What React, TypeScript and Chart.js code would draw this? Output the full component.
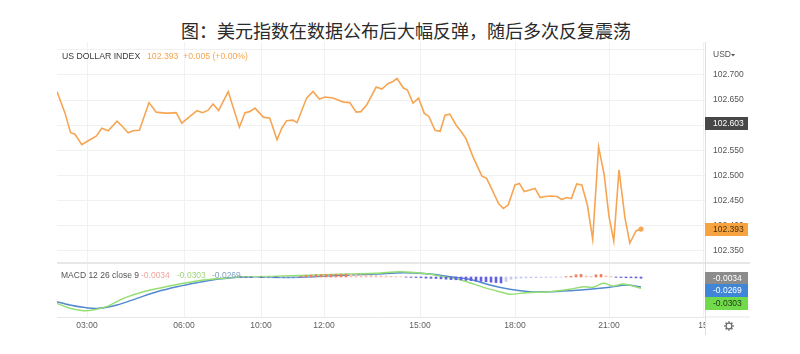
import React, { useEffect, useRef } from "react";
import { Chart, registerables } from "chart.js";

Chart.register(...registerables);

// ---------- text ----------
const TITLE = "图：美元指数在数据公布后大幅反弹，随后多次反复震荡";
const SYMBOL = "US DOLLAR INDEX";
const QUOTE_CHANGE = "+0.005 (+0.00%)";
const CURRENCY = "USD";
const MACD_LABEL = "MACD 12 26 close 9";

// ---------- x axis (bar index units) ----------
const X_MIN = 0;
const X_MAX = 81;
const X_TICK_POS = [3.75, 15.875, 25.5, 33.375, 45.375, 57.25, 69, 80.75];
const X_TICK_LABELS = ["03:00", "06:00", "10:00", "12:00", "15:00", "18:00", "21:00", "15"];

// ---------- price pane ----------
const Y_MIN = 102.3255;
const Y_MAX = 102.7657;
const Y_TICKS = [102.35, 102.4, 102.45, 102.5, 102.55, 102.6, 102.65, 102.7, 102.75];
const REF_PRICE = 102.603;

const PRICE_T = [
  0, 1.0, 1.7, 2.25, 3.1, 3.9, 4.9, 5.6, 6.4, 7.5,
  8.2, 8.9, 9.5, 10.3, 11.5, 12.4, 13.5, 14.1, 14.9, 15.6,
  16.5, 17.5, 18.2, 18.9, 19.5, 20.2, 21.4, 22.8, 23.5, 24.1,
  24.75, 25.8, 26.6, 27.5, 28.1, 28.7, 29.5, 30.0, 31.2, 32.0,
  32.8, 33.5, 34.5, 35.8, 36.6, 37.4, 38.0, 38.7, 39.9, 40.6,
  41.4, 42.0, 42.5, 43.3, 43.8, 44.5, 45.2, 45.9, 46.5, 47.25,
  47.9, 48.5, 49.1, 49.9, 50.4, 51.1, 52.0, 53.1, 53.7, 54.3,
  55.2, 55.8, 56.4, 57.25, 57.8, 58.4, 59.1, 59.75, 60.4, 61.0,
  61.8, 62.5, 63.1, 63.7, 64.3, 64.96, 65.6, 66.3, 66.96, 67.7,
  68.4, 69.0, 69.6, 70.25, 71.0, 71.6, 72.4, 73.0,
];
const PRICE = [
  102.667, 102.624, 102.585, 102.582, 102.561, 102.569, 102.578, 102.594, 102.589, 102.608,
  102.597, 102.585, 102.589, 102.590, 102.645, 102.626, 102.624, 102.624, 102.625, 102.604,
  102.616, 102.629, 102.625, 102.630, 102.642, 102.629, 102.667, 102.596, 102.625, 102.627,
  102.634, 102.616, 102.614, 102.571, 102.594, 102.609, 102.610, 102.605, 102.654, 102.667,
  102.652, 102.656, 102.654, 102.646, 102.645, 102.626, 102.627, 102.640, 102.676, 102.672,
  102.683, 102.687, 102.693, 102.674, 102.670, 102.644, 102.654, 102.624, 102.617, 102.590,
  102.588, 102.620, 102.622, 102.600, 102.590, 102.574, 102.537, 102.499, 102.494, 102.474,
  102.444, 102.434, 102.441, 102.481, 102.484, 102.468, 102.471, 102.474, 102.456, 102.458,
  102.459, 102.458, 102.452, 102.456, 102.454, 102.483, 102.481, 102.441, 102.373, 102.557,
  102.501, 102.418, 102.369, 102.511, 102.415, 102.365, 102.390, 102.393,
];

// ---------- MACD pane ----------
const M_MIN = -0.108;
const M_MAX = 0.0378;

const SIGNAL_T = [0, 1.6, 3.3, 5.2, 7.5, 10.0, 12.5, 15.0, 17.5, 20.0, 22.5, 24.5, 26.2, 30.4, 36.6, 40.0, 43.3, 46.6, 49.1, 51.6, 54.1, 56.6, 59.1, 61.6, 64.1, 66.6, 69.1, 71.2, 73.0];
const SIGNAL = [-0.0667, -0.0756, -0.0818, -0.0845, -0.0756, -0.0575, -0.0397, -0.0262, -0.0154, -0.0062, -0.0008, 0.0008, -0.0008, -0.0008, 0.0054, 0.0081, 0.0116, 0.0081, 0.0008, -0.0062, -0.0216, -0.0332, -0.0397, -0.0397, -0.0370, -0.0332, -0.0278, -0.0216, -0.0269];

const MACD_T = [0, 1.6, 3.3, 4.5, 6.2, 8.3, 10.8, 13.3, 15.8, 18.3, 20.8, 23.3, 25.0, 28.3, 32.5, 36.6, 40.0, 42.9, 45.8, 48.3, 50.8, 53.3, 55.8, 56.6, 58.7, 61.6, 64.1, 65.8, 67.0, 68.3, 69.5, 70.8, 73.0];
const MACD = [-0.0710, -0.0845, -0.0910, -0.0891, -0.0802, -0.0575, -0.0397, -0.0278, -0.0170, -0.0081, -0.0035, 0.0008, 0.0008, 0.0027, 0.0054, 0.0081, 0.0100, 0.0143, 0.0100, 0.0008, -0.0100, -0.0278, -0.0424, -0.0467, -0.0424, -0.0397, -0.0332, -0.0262, -0.0278, -0.0170, -0.0243, -0.0189, -0.0303];

const HIST_START = 23;
const HIST_STEP = 0.625;
const HIST = [
  -0.001, -0.001, -0.0015, -0.001, -0.0012, -0.001, -0.0008, -0.001, -0.0008, -0.0006,
  -0.0005, -0.0004, 0.002, 0.004, 0.005, 0.006, 0.0065, 0.007, 0.0072, 0.0075,
  0.0078, 0.008, 0.007, 0.0062, 0.0055, 0.005, 0.0045, 0.004, 0.0032, 0.0025,
  0.0018, 0.0012, 0.0006, -0.0005, -0.001, -0.0015, -0.002, -0.003, -0.0035, -0.004,
  -0.005, -0.006, -0.007, -0.0075, -0.008, -0.009, -0.010, -0.011, -0.012, -0.013,
  -0.014, -0.015, -0.016, -0.012, -0.006, -0.004, -0.003, -0.0025, -0.002, -0.0018,
  -0.0015, -0.0012, -0.001, -0.0008, -0.0005, 0.001, 0.002, 0.006, 0.007, 0.003,
  0.002, 0.006, 0.007, 0.003, 0.0015, -0.001, -0.0015, -0.002, -0.002, -0.0025,
  -0.0034,
];

const FONT = '"Liberation Sans", Arial, sans-serif';
const ORANGE = "#f6a552";
const BLUE = "#5289cf";
const GREEN = "#95de72";

function histColor(i: number): string {
  const v = HIST[i];
  const p = i > 0 ? HIST[i - 1] : 0;
  if (v >= 0) return v >= p ? "#ef7d5f" : "#f6c2b2";
  return v <= p ? "#6262e0" : "#c6c9ef";
}

function fmtSigned(v: number, d: number): string {
  return (v >= 0 ? "+" : "") + v.toFixed(d);
}

const overlayPlugin = {
  id: "overlay",
  afterDraw(chart: any) {
    const { ctx, chartArea: a, scales } = chart;
    const ys = scales.y;
    const y2 = scales.y2;
    ctx.save();

    // pane separator and bottom line
    ctx.fillStyle = "#e7e7e7";
    ctx.fillRect(a.left, ys.bottom - 1, 750 - a.left, 2);
    ctx.fillRect(a.right, a.bottom - 0.5, 45, 1);

    // clip time labels under the price scale
    ctx.fillStyle = "#ffffff";
    ctx.fillRect(a.right + 1, a.bottom + 1, 800 - a.right, 30);

    // price-scale border
    ctx.strokeStyle = "#dedede";
    ctx.lineWidth = 1;
    ctx.beginPath();
    ctx.moveTo(a.right + 0.5, a.top);
    ctx.lineTo(a.right + 0.5, a.bottom + 18);
    ctx.stroke();

    // legends
    ctx.textBaseline = "middle";
    ctx.textAlign = "left";
    ctx.font = `8.7px ${FONT}`;
    ctx.fillStyle = "#3a3a3a";
    ctx.fillText(SYMBOL, 62, 56.5);
    ctx.fillStyle = ORANGE;
    const last = PRICE[PRICE.length - 1];
    ctx.fillText(`${last.toFixed(3)}  ${QUOTE_CHANGE}`, 147, 56.5);

    ctx.font = `8.5px ${FONT}`;
    ctx.fillStyle = "#555";
    ctx.fillText(MACD_LABEL, 61, 275.5);
    const hLast = HIST[HIST.length - 1];
    const mLast = MACD[MACD.length - 1];
    const sLast = SIGNAL[SIGNAL.length - 1];
    ctx.fillStyle = "#f2a6a0";
    ctx.fillText(fmtSigned(hLast, 4), 141, 275.5);
    ctx.fillStyle = "#9fd67c";
    ctx.fillText(fmtSigned(mLast, 4), 177, 275.5);
    ctx.fillStyle = "#7f9fc4";
    ctx.fillText(fmtSigned(sLast, 4), 212, 275.5);

    // USD label
    ctx.fillStyle = "#555";
    ctx.fillText(CURRENCY, 713, 55);
    ctx.beginPath();
    ctx.moveTo(731, 54);
    ctx.lineTo(735, 54);
    ctx.lineTo(733, 56.5);
    ctx.closePath();
    ctx.fill();

    const badge = (y: number, text: string, bg: string, fg: string) => {
      const h = 13;
      ctx.fillStyle = bg;
      ctx.fillRect(a.right, Math.round(y - h / 2), 43, h);
      ctx.fillStyle = fg;
      ctx.font = `8.5px ${FONT}`;
      ctx.textAlign = "left";
      ctx.textBaseline = "middle";
      ctx.fillText(text, a.right + 8, Math.round(y - h / 2) + h / 2 + 0.5);
    };

    badge(ys.getPixelForValue(REF_PRICE), REF_PRICE.toFixed(3), "#474747", "#ffffff");
    badge(ys.getPixelForValue(last), last.toFixed(3), "#f7a33f", "#4a3010");

    // MACD badges, pushed apart
    const items = [
      { v: hLast, bg: "#8c8c8c", fg: "#ffffff" },
      { v: sLast, bg: "#3f86d9", fg: "#ffffff" },
      { v: mLast, bg: "#70da4b", fg: "#1f3a12" },
    ].map((it) => ({ ...it, y: y2.getPixelForValue(it.v) }));
    items.sort((p, q) => p.y - q.y);
    for (let i = 1; i < items.length; i++) {
      if (items[i].y < items[i - 1].y + 12.7) items[i].y = items[i - 1].y + 12.7;
    }
    items.forEach((it) => badge(it.y, it.v.toFixed(4), it.bg, it.fg));

    // settings gear
    const cx = 729;
    const cy = 326;
    ctx.strokeStyle = "#6a6a6a";
    ctx.lineWidth = 1.2;
    ctx.beginPath();
    ctx.arc(cx, cy, 2.9, 0, Math.PI * 2);
    ctx.stroke();
    ctx.lineWidth = 1.5;
    for (let k = 0; k < 8; k++) {
      const ang = (k * Math.PI) / 4;
      ctx.beginPath();
      ctx.moveTo(cx + Math.cos(ang) * 3.3, cy + Math.sin(ang) * 3.3);
      ctx.lineTo(cx + Math.cos(ang) * 4.8, cy + Math.sin(ang) * 4.8);
      ctx.stroke();
    }

    ctx.restore();
  },
};

export default function App() {
  const ref = useRef<HTMLCanvasElement>(null);

  useEffect(() => {
    document.body.style.margin = "0";
    const canvas = ref.current;
    if (!canvas) return;
    const lastIdx = PRICE.length - 1;

    const chart = new Chart(canvas, {
      type: "line",
      data: {
        datasets: [
          {
            label: "price",
            data: PRICE.map((v, i) => ({ x: PRICE_T[i], y: v })),
            yAxisID: "y",
            borderColor: ORANGE,
            backgroundColor: ORANGE,
            borderWidth: 1.6,
            pointRadius: (c: any) => (c.dataIndex === lastIdx ? 2.6 : 0),
            pointBorderWidth: 0,
            tension: 0,
            order: 0,
          },
          {
            label: "macd",
            data: MACD.map((v, i) => ({ x: MACD_T[i], y: v })),
            yAxisID: "y2",
            borderColor: GREEN,
            borderWidth: 1.4,
            pointRadius: 0,
            tension: 0.3,
            order: 2,
          },
          {
            label: "signal",
            data: SIGNAL.map((v, i) => ({ x: SIGNAL_T[i], y: v })),
            yAxisID: "y2",
            borderColor: BLUE,
            borderWidth: 1.4,
            pointRadius: 0,
            tension: 0.3,
            order: 3,
          },
          {
            type: "bar",
            label: "hist",
            data: HIST.map((v, i) => ({ x: HIST_START + i * HIST_STEP, y: v })),
            yAxisID: "y2",
            backgroundColor: HIST.map((_, i) => histColor(i)),
            barThickness: 2,
            borderWidth: 0,
            order: 1,
          } as any,
        ],
      },
      options: {
        responsive: false,
        animation: false,
        events: [],
        layout: { padding: { left: 57, top: 42, right: 0, bottom: 0 } },
        plugins: {
          legend: { display: false },
          tooltip: { enabled: false },
          title: { display: false },
        },
        scales: {
          x: {
            type: "linear",
            position: "bottom",
            min: X_MIN,
            max: X_MAX,
            offset: false,
            afterBuildTicks: (ax: any) => {
              ax.ticks = X_TICK_POS.map((v) => ({ value: v }));
            },
            afterFit: (ax: any) => {
              ax.height = 37;
            },
            ticks: {
              autoSkip: false,
              maxRotation: 0,
              padding: 4,
              color: "#5e5e5e",
              font: { size: 8.5, family: FONT },
              callback: (_v: any, i: number) => X_TICK_LABELS[i] ?? "",
            },
            grid: { color: "#f1f1f1", drawTicks: false, offset: false },
            border: { display: true, color: "#e7e7e7" },
          },
          y: {
            type: "linear",
            position: "right",
            stack: "panes",
            stackWeight: 221,
            min: Y_MIN,
            max: Y_MAX,
            afterBuildTicks: (ax: any) => {
              ax.ticks = Y_TICKS.map((v) => ({ value: v }));
            },
            afterFit: (ax: any) => {
              ax.width = 95;
            },
            ticks: {
              padding: 8,
              color: "#555",
              font: { size: 8.5, family: FONT },
              callback: (v: any) => (Number(v) > 102.72 ? "" : Number(v).toFixed(3)),
            },
            grid: { color: "#f1f1f1", drawTicks: false },
            border: { display: false },
          },
          y2: {
            type: "linear",
            position: "right",
            stack: "panes",
            stackWeight: 54,
            min: M_MIN,
            max: M_MAX,
            afterFit: (ax: any) => {
              ax.width = 95;
            },
            ticks: { display: false },
            grid: { display: false, drawTicks: false },
            border: { display: false },
          },
        },
      } as any,
      plugins: [overlayPlugin],
    });

    return () => chart.destroy();
  }, []);

  return (
    <div style={{ position: "relative", width: 800, height: 354, background: "#fff", overflow: "hidden" }}>
      <div
        style={{
          position: "absolute",
          left: 6,
          top: 19,
          width: 800,
          textAlign: "center",
          fontFamily: '"Noto Sans CJK SC", sans-serif',
          fontSize: 18,
          lineHeight: "22px",
          color: "#2b2b2b",
        }}
      >
        {TITLE}
      </div>
      <canvas
        ref={ref}
        width={800}
        height={354}
        style={{ position: "absolute", left: 0, top: 0, width: 800, height: 354 }}
      />
    </div>
  );
}
